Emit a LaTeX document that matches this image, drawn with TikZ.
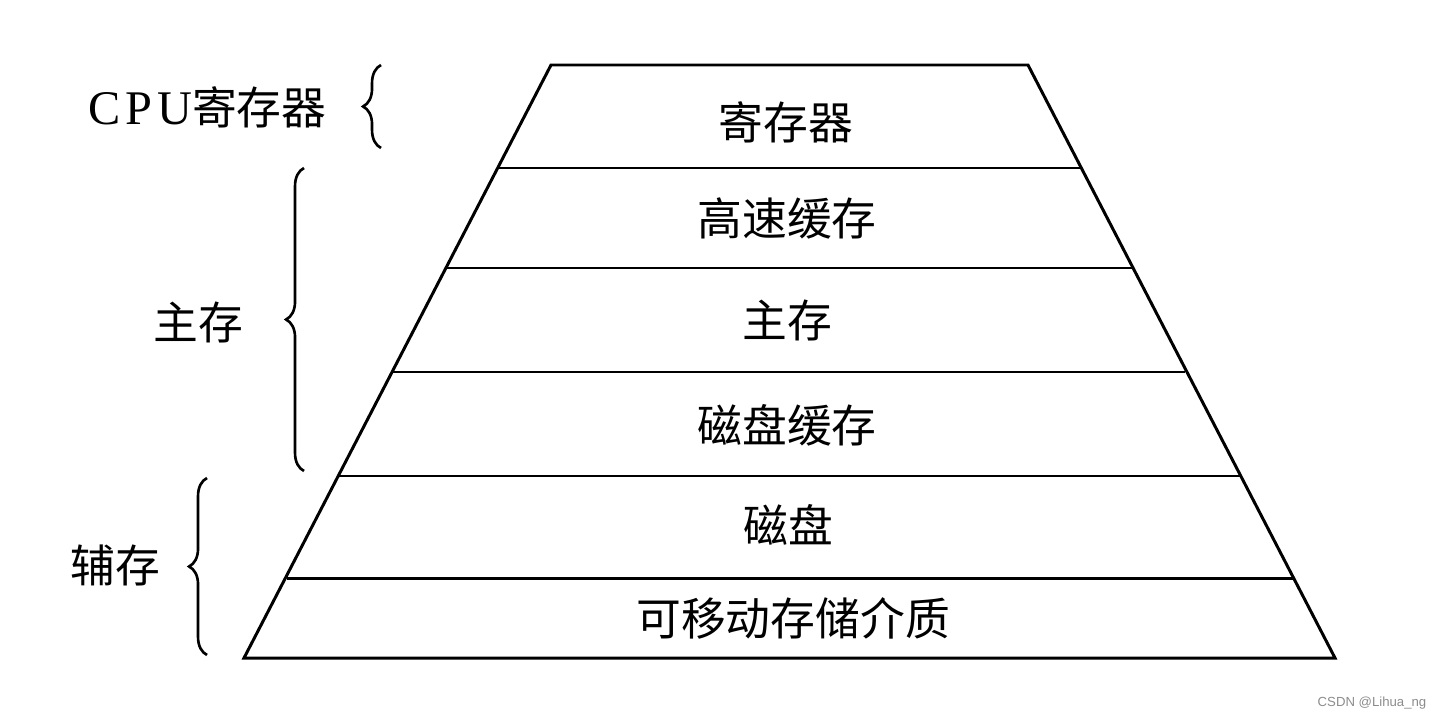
\documentclass[tikz,border=0pt]{standalone}
\usepackage{fontspec}
\setmainfont{Liberation Serif}
\newfontfamily\cjk{Noto Sans CJK SC}
\newfontfamily\wmfont{Liberation Sans}
\usetikzlibrary{decorations.pathreplacing}
\begin{document}
\begin{tikzpicture}[x=0.02cm,y=-0.02cm,
  edge/.style={line width=1.7pt,line join=miter},
  lvl/.style={inner sep=0pt,font=\fontsize{25.5}{30}\cjk},
  side/.style={inner sep=0pt,font=\fontsize{25.5}{30}\cjk},
  brc/.style={line width=1.5pt,decorate,decoration={brace,amplitude=12pt*0.85}}]
\useasboundingbox (0,0) rectangle (1440,720);
% pyramid corners
\coordinate (t1) at (551,65);  \coordinate (t2) at (1028,65);
\coordinate (a1) at (499,168); \coordinate (a2) at (1080,168);
\coordinate (b1) at (446,268); \coordinate (b2) at (1132,268);
\coordinate (c1) at (393,372); \coordinate (c2) at (1185,372);
\coordinate (d1) at (339,476); \coordinate (d2) at (1240,476);
\coordinate (e1) at (287,578); \coordinate (e2) at (1293,578);
\coordinate (f1) at (244,658); \coordinate (f2) at (1335,658);
\draw[edge] (t1) -- (t2) -- (f2) -- (f1) -- cycle;
\draw[edge] (a1) -- (a2);
\draw[edge] (b1) -- (b2);
\draw[edge] (c1) -- (c2);
\draw[edge] (d1) -- (d2);
\draw[edge] (e1) -- (e2);
% level labels
\node[lvl] (l1) at (786,122) {寄存器};
\node[lvl] (l2) at (787,218) {高速缓存};
\node[lvl] (l3) at (787,320) {主存};
\node[lvl] (l4) at (787,425) {磁盘缓存};
\node[lvl] (l5) at (788,525) {磁盘};
\node[lvl] (l6) at (793,618) {可移动存储介质};
% side labels
\node[side,anchor=west] (s1) at (88,107) {{\rmfamily\fontsize{27.5}{30}\selectfont\addfontfeature{LetterSpace=10}CPU}寄存器};
\node[side] (s2) at (198,322) {主存};
\node[side] (s3) at (115,565) {辅存};
% braces
\coordinate (b1b) at (381,148); \coordinate (b1t) at (381,65);
\coordinate (b2b) at (304,471); \coordinate (b2t) at (304,168);
\coordinate (b3b) at (207,655); \coordinate (b3t) at (207,478);
\draw[brc] (b1b) -- (b1t);
\draw[brc] (b2b) -- (b2t);
\draw[brc] (b3b) -- (b3t);
% watermark
\node[inner sep=0pt,font=\fontsize{7.5}{9}\wmfont,text=black!45] (wm) at (1372,703) {CSDN @Lihua\_ng};
\end{tikzpicture}
\end{document}
